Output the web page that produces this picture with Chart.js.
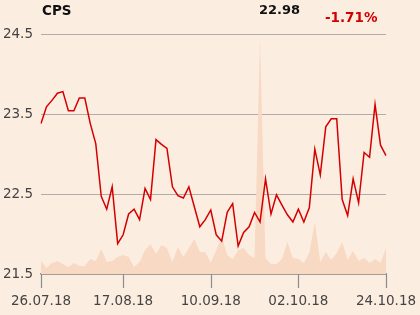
<!DOCTYPE html>
<html>
<head>
<meta charset="utf-8">
<script src="https://cdn.jsdelivr.net/npm/chart.js@4.4.0/dist/chart.umd.min.js"></script>
<style>
    body { margin: 0; background: #fcede1; }
    #wrap { position: relative; width: 420px; height: 315px; }
    .hd { position: absolute; font-family: "DejaVu Sans", sans-serif; font-weight: bold; line-height: 16px; white-space: nowrap; }
</style>
</head>
<body>
<div id="wrap">
    <canvas id="cps" width="420" height="315"></canvas>
    <div class="hd" style="left:42px; top:2px; font-size:13.5px; color:#111;">CPS</div>
    <div class="hd" style="left:259px; top:2px; font-size:13px; color:#111;">22.98</div>
    <div class="hd" style="left:325px; top:9px; font-size:13.5px; color:#d40000;">-1.71%</div>
</div>
<script>
// closing prices, one per trading day
const prices = [
    23.38, 23.59, 23.67, 23.76, 23.78, 23.54, 23.54, 23.70, 23.70, 23.38,
    23.13, 22.47, 22.31, 22.59, 21.88, 21.99, 22.25, 22.31, 22.18, 22.57,
    22.43, 23.18, 23.12, 23.07, 22.59, 22.48, 22.45, 22.59, 22.34, 22.09,
    22.18, 22.30, 21.99, 21.91, 22.27, 22.38, 21.85, 22.02, 22.09, 22.27,
    22.15, 22.69, 22.25, 22.49, 22.36, 22.24, 22.15, 22.31, 22.15, 22.33,
    23.06, 22.74, 23.34, 23.44, 23.44, 22.43, 22.23, 22.69, 22.39, 23.02,
    22.96, 23.62, 23.11, 22.98
];

// traded volume (relative units)
const volumes = [
    13, 6, 11, 13, 10, 7, 11, 8, 8, 15,
    13, 25, 12, 13, 17, 19, 17, 7, 12, 24,
    30, 20, 29, 26, 12, 27, 17, 26, 35, 22,
    22, 11, 24, 37, 19, 15, 24, 26, 19, 16,
    236, 16, 10, 10, 15, 32, 16, 15, 11, 21,
    52, 12, 22, 14, 21, 32, 14, 23, 13, 16,
    11, 15, 11, 26
];
const volMax = 240;

// x tick labels and the day index they belong to
const tickLabels = ["26.07.18", "17.08.18", "10.09.18", "02.10.18", "24.10.18"];
const tickIndex = [0, 15, 31, 47, 63];

// price axis
const yMin = 21.5;
const yMax = 24.5;
const yTicks = [21.5, 22.5, 23.5, 24.5];

const days = prices.map((p, i) => i);

// little tick marks under the x axis, only at labelled days
const tickMarks = {
    id: "tickMarks",
    afterDraw(chart) {
        const x = chart.scales.x;
        const c = chart.ctx;
        const top = chart.chartArea.bottom;
        c.save();
        c.strokeStyle = "#8c8c8c";
        c.lineWidth = 1.2;
        c.beginPath();
        tickIndex.forEach(i => {
            const px = Math.round(x.getPixelForValue(i)) + 0.5;
            c.moveTo(px, top);
            c.lineTo(px, top + 14);
        });
        c.stroke();
        c.restore();
    }
};

const ctx = document.getElementById("cps").getContext("2d");
new Chart(ctx, {
    type: "line",
    data: {
        labels: days,
        datasets: [{
            label: "price",
            data: prices,
            borderColor: "#d40000",
            borderWidth: 1.5,
            pointRadius: 0,
            tension: 0,
            yAxisID: "y"
        }, {
            label: "volume",
            data: volumes,
            borderWidth: 0,
            borderColor: "rgba(0,0,0,0)",
            backgroundColor: "#f8d9c4",
            fill: "origin",
            pointRadius: 0,
            tension: 0,
            yAxisID: "y1"
        }]
    },
    options: {
        responsive: false,
        animation: false,
        layout: { padding: { left: 0, right: 34, top: 34, bottom: 0 } },
        plugins: {
            legend: { display: false },
            tooltip: { enabled: false }
        },
        scales: {
            x: {
                offset: false,
                grid: {
                    drawOnChartArea: false,
                    drawTicks: true,
                    tickLength: 16,
                    color: "rgba(0,0,0,0)"
                },
                border: { display: true, color: "#8c8c8c", width: 1.5 },
                ticks: {
                    autoSkip: false,
                    maxRotation: 0,
                    padding: 3,
                    color: "#444",
                    font: { family: "DejaVu Sans", size: 13.5 },
                    callback: (v, i) => {
                        const k = tickIndex.indexOf(i);
                        return k >= 0 ? tickLabels[k] : "";
                    }
                },
                afterFit: (axis) => { axis.height = 41; }
            },
            y: {
                position: "left",
                min: yMin,
                max: yMax,
                afterBuildTicks: (axis) => { axis.ticks = yTicks.map(v => ({ value: v })); },
                grid: { drawTicks: false, color: "#b3aca6", lineWidth: 1 },
                border: { display: false },
                ticks: {
                    padding: 8,
                    color: "#444",
                    font: { family: "DejaVu Sans", size: 13.5 },
                    callback: (v) => v.toFixed(1)
                },
                afterFit: (axis) => { axis.width = 41; }
            },
            y1: {
                display: false,
                min: 0,
                max: volMax
            }
        }
    },
    plugins: [tickMarks]
});
</script>
</body>
</html>
